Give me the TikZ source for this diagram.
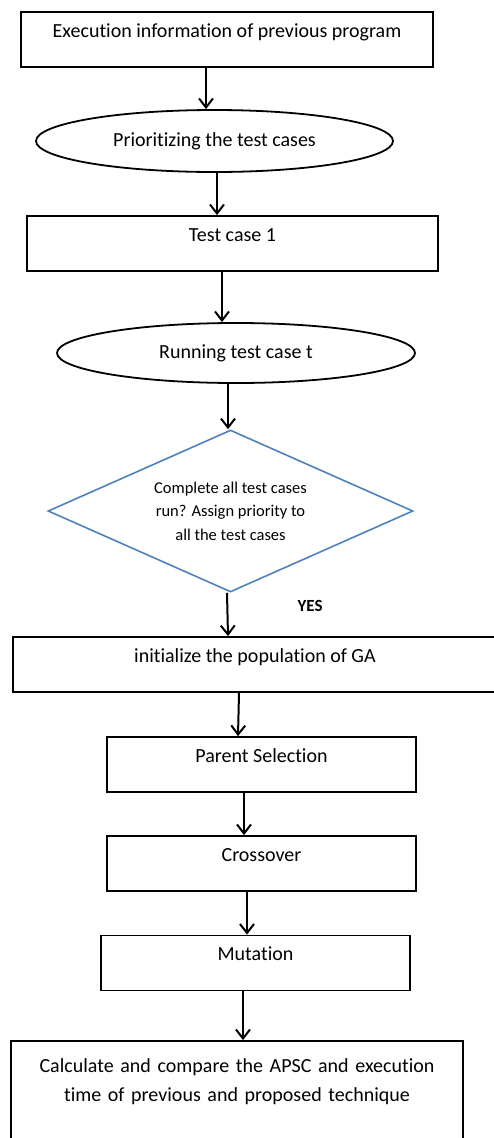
\documentclass[tikz,border=0pt]{standalone}
\usepackage{fontspec}
\setmainfont{Carlito}[Ligatures=NoCommon]
\definecolor{flujoAzul}{HTML}{4F81BD}
\usetikzlibrary{
	arrows.meta,
	positioning,
	shapes.geometric
}
\tikzset{
	caja/.style={
		draw=black,
		line width=1.8pt,
		inner sep=0pt,
		align=center,
		text height=25pt,
		text depth=30pt,
		font=\fontsize{20}{29}\selectfont
	},
	elipse/.style={
		draw=black,
		line width=1.8pt,
		ellipse,
		inner sep=0pt,
		font=\fontsize{20}{29}\selectfont
	},
	decision/.style={
		draw=flujoAzul,
		line width=1.6pt,
		diamond,
		aspect=2.25,
		inner sep=0pt,
		align=center,
		font=\fontsize{16.5}{23.5}\selectfont
	},
	flecha/.style={
		-{Straight Barb[length=9pt,width=14pt,line width=2pt]},
		line width=2pt
	},
	etiqueta/.style={
		font=\bfseries\fontsize{17}{20}\selectfont
	}
}

\begin{document}
\begin{tikzpicture}[x=1pt,y=-1pt]
		\useasboundingbox[fill=white] (0,0) rectangle (493,1138);
		\node[caja, minimum width=412pt] (exec) at (227,39.5) {Execution information of previous program};
		\node[elipse, minimum width=357pt, minimum height=62pt] (prio) at (214.5,141) {Prioritizing the test cases};
		\node[caja, minimum width=411pt] (tc1) at (232.5,243.5) {Test case 1};
		\node[elipse, minimum width=358pt, minimum height=60pt] (run) at (236,353) {Running test case t};
		\node[decision, minimum width=365pt, minimum height=162pt] (chk) at (230.5,511) {Complete all test cases\\run? Assign priority to\\all the test cases};
		\node[caja, minimum width=484pt] (init) at (255,664.5) {initialize the population of GA};
		\node[caja, minimum width=309pt] (par) at (261.5,764.5) {Parent Selection};
		\node[caja, minimum width=309pt] (cro) at (261.5,863.5) {Crossover};
		\node[caja, minimum width=309pt] (mut) at (255.5,963) {Mutation};
		\node[caja, text width=452pt, text height=31pt, text depth=78pt] (calc) at (237,1095.5) {Calculate and compare the APSC and execution\\time of previous and proposed technique};
		\draw[flecha] ([xshift=-21pt]exec.south) -- ([xshift=-8.5pt]prio.north);
		\draw[flecha] ([xshift=2.5pt]prio.south) -- ([xshift=-15.5pt]tc1.north);
		\draw[flecha] ([xshift=-10.5pt]tc1.south) -- ([xshift=-14pt]run.north);
		\draw[flecha] ([xshift=-8pt]run.south) -- ([xshift=-2.5pt]chk.north);
		\draw[flecha] ([xshift=-3.5pt]chk.south) -- node[etiqueta, pos=0.3, right=66pt] {YES} ([xshift=-27pt]init.north);
		\draw[flecha] ([xshift=-16pt]init.south) -- ([xshift=-23.5pt]par.north);
		\draw[flecha] ([xshift=-17.5pt]par.south) -- ([xshift=-17.5pt]cro.north);
		\draw[flecha] ([xshift=-14.5pt]cro.south) -- ([xshift=-8.5pt]mut.north);
		\draw[flecha] ([xshift=-12.5pt]mut.south) -- ([xshift=6pt]calc.north);
	\end{tikzpicture}
\end{document}
